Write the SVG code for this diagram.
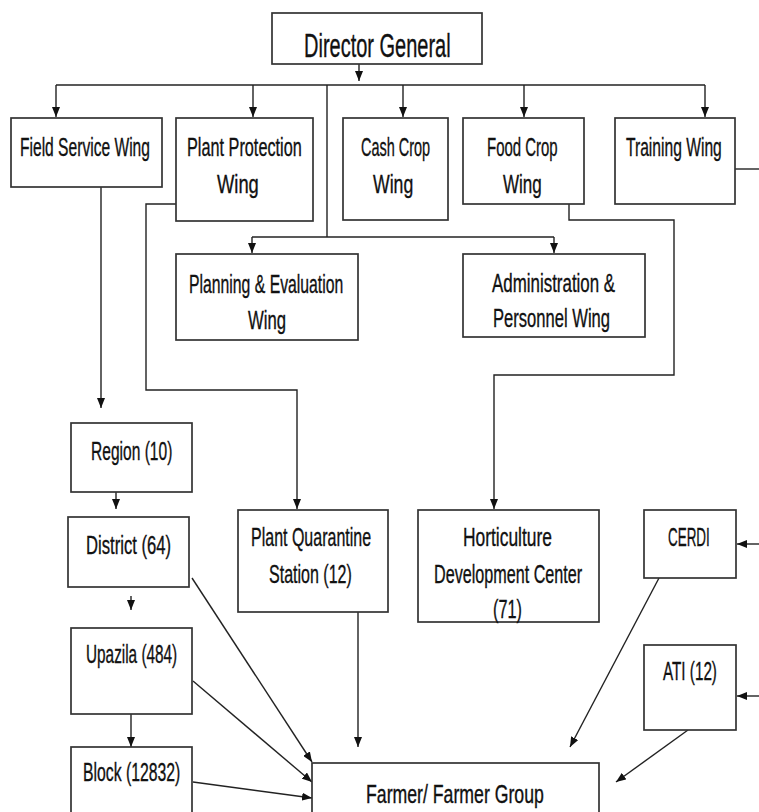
<svg xmlns="http://www.w3.org/2000/svg" width="759" height="812" viewBox="0 0 759 812">
<style>
.box{fill:#fff;stroke:#333;stroke-width:1.7}
.t{font-family:"Liberation Sans Narrow","Liberation Sans",Arial,sans-serif;font-size:25px;fill:#111;stroke:#111;stroke-width:0.35}
.big{font-size:33px}
.c{fill:none;stroke:#222;stroke-width:1.4}
</style>
<defs>
<marker id="ah" markerUnits="userSpaceOnUse" markerWidth="10" markerHeight="8" refX="10" refY="4" orient="auto">
<path d="M0,0 L10,4 L0,8 z" fill="#111"/>
</marker>
</defs>
<g id="connectors">
<line class="c" x1="359" y1="64" x2="359" y2="81" marker-end="url(#ah)"/>
<line class="c" x1="56" y1="85" x2="705" y2="85"/>
<line class="c" x1="56" y1="85" x2="56" y2="117" marker-end="url(#ah)"/>
<line class="c" x1="253" y1="85" x2="253" y2="117" marker-end="url(#ah)"/>
<line class="c" x1="403" y1="85" x2="403" y2="117" marker-end="url(#ah)"/>
<line class="c" x1="524" y1="85" x2="524" y2="117" marker-end="url(#ah)"/>
<line class="c" x1="705" y1="85" x2="705" y2="117" marker-end="url(#ah)"/>
<line class="c" x1="327" y1="85" x2="327" y2="237"/>
<line class="c" x1="252" y1="237" x2="554" y2="237"/>
<line class="c" x1="252" y1="237" x2="252" y2="253" marker-end="url(#ah)"/>
<line class="c" x1="554" y1="237" x2="554" y2="253" marker-end="url(#ah)"/>
<line class="c" x1="101" y1="187" x2="101" y2="408" marker-end="url(#ah)"/>
<polyline class="c" points="176,204 146,204 146,390 297,390 297,509" marker-end="url(#ah)"/>
<polyline class="c" points="569,204 569,220 674,220 674,375 494,375 494,509" marker-end="url(#ah)"/>
<line class="c" x1="116" y1="492" x2="116" y2="509" marker-end="url(#ah)"/>
<line class="c" x1="131" y1="596" x2="131" y2="610" marker-end="url(#ah)"/>
<line class="c" x1="131" y1="714" x2="131" y2="747" marker-end="url(#ah)"/>
<line class="c" x1="735" y1="169" x2="759" y2="169"/>
<line class="c" x1="759" y1="544" x2="737" y2="544" marker-end="url(#ah)"/>
<line class="c" x1="759" y1="696" x2="737" y2="696" marker-end="url(#ah)"/>
<line class="c" x1="192" y1="578" x2="312" y2="762" marker-end="url(#ah)"/>
<line class="c" x1="193" y1="681" x2="312" y2="782" marker-end="url(#ah)"/>
<line class="c" x1="193" y1="782" x2="312" y2="798" marker-end="url(#ah)"/>
<line class="c" x1="358" y1="612" x2="358" y2="747" marker-end="url(#ah)"/>
<line class="c" x1="659" y1="578" x2="570" y2="747" marker-end="url(#ah)"/>
<line class="c" x1="688" y1="730" x2="616" y2="782" marker-end="url(#ah)"/>
</g>
<g id="director-general">
<rect class="box" x="272" y="13" width="210" height="51"/>
<text class="t big" transform="translate(304 57) scale(.76 1)" textLength="193" lengthAdjust="spacingAndGlyphs">Director General</text>
</g>
<g id="field-service-wing">
<rect class="box" x="11" y="118" width="151" height="69"/>
<text class="t" transform="translate(20 156) scale(.76 1)" textLength="171" lengthAdjust="spacingAndGlyphs">Field Service Wing</text>
</g>
<g id="plant-protection-wing">
<rect class="box" x="176" y="118" width="137" height="103"/>
<text class="t" transform="translate(187 156) scale(.76 1)" textLength="151" lengthAdjust="spacingAndGlyphs">Plant Protection</text>
<text class="t" transform="translate(217 193) scale(.76 1)" textLength="55" lengthAdjust="spacingAndGlyphs">Wing</text>
</g>
<g id="cash-crop-wing">
<rect class="box" x="343" y="118" width="105" height="102"/>
<text class="t" transform="translate(361 156) scale(.76 1)" textLength="91" lengthAdjust="spacingAndGlyphs">Cash Crop</text>
<text class="t" transform="translate(373 193) scale(.76 1)" textLength="53" lengthAdjust="spacingAndGlyphs">Wing</text>
</g>
<g id="food-crop-wing">
<rect class="box" x="463" y="118" width="121" height="86"/>
<text class="t" transform="translate(487 156) scale(.76 1)" textLength="93" lengthAdjust="spacingAndGlyphs">Food Crop</text>
<text class="t" transform="translate(503 193) scale(.76 1)" textLength="51" lengthAdjust="spacingAndGlyphs">Wing</text>
</g>
<g id="training-wing">
<rect class="box" x="615" y="118" width="120" height="86"/>
<text class="t" transform="translate(626 156) scale(.76 1)" textLength="126" lengthAdjust="spacingAndGlyphs">Training Wing</text>
</g>
<g id="planning-evaluation-wing">
<rect class="box" x="176" y="254" width="182" height="86"/>
<text class="t" transform="translate(189 293) scale(.76 1)" textLength="203" lengthAdjust="spacingAndGlyphs">Planning &amp; Evaluation</text>
<text class="t" transform="translate(248 329) scale(.76 1)" textLength="50" lengthAdjust="spacingAndGlyphs">Wing</text>
</g>
<g id="administration-personnel-wing">
<rect class="box" x="463" y="254" width="182" height="83"/>
<text class="t" transform="translate(492 292) scale(.76 1)" textLength="162" lengthAdjust="spacingAndGlyphs">Administration &amp;</text>
<text class="t" transform="translate(493 327) scale(.76 1)" textLength="154" lengthAdjust="spacingAndGlyphs">Personnel Wing</text>
</g>
<g id="region">
<rect class="box" x="71" y="423" width="121" height="69"/>
<text class="t" transform="translate(91 460) scale(.76 1)" textLength="107" lengthAdjust="spacingAndGlyphs">Region (10)</text>
</g>
<g id="district">
<rect class="box" x="68" y="517" width="121" height="70"/>
<text class="t" transform="translate(86 554) scale(.76 1)" textLength="112" lengthAdjust="spacingAndGlyphs">District (64)</text>
</g>
<g id="upazila">
<rect class="box" x="71" y="628" width="121" height="86"/>
<text class="t" transform="translate(86 663) scale(.76 1)" textLength="120" lengthAdjust="spacingAndGlyphs">Upazila (484)</text>
</g>
<g id="block">
<rect class="box" x="71" y="747" width="121" height="80"/>
<text class="t" transform="translate(83 781) scale(.76 1)" textLength="128" lengthAdjust="spacingAndGlyphs">Block (12832)</text>
</g>
<g id="plant-quarantine-station">
<rect class="box" x="238" y="510" width="150" height="102"/>
<text class="t" transform="translate(251 546) scale(.76 1)" textLength="158" lengthAdjust="spacingAndGlyphs">Plant Quarantine</text>
<text class="t" transform="translate(269 583) scale(.76 1)" textLength="109" lengthAdjust="spacingAndGlyphs">Station (12)</text>
</g>
<g id="horticulture-development-center">
<rect class="box" x="418" y="510" width="181" height="112"/>
<text class="t" transform="translate(463 546) scale(.76 1)" textLength="117" lengthAdjust="spacingAndGlyphs">Horticulture</text>
<text class="t" transform="translate(434 583) scale(.76 1)" textLength="195" lengthAdjust="spacingAndGlyphs">Development Center</text>
<text class="t" transform="translate(493 618) scale(.76 1)" textLength="38" lengthAdjust="spacingAndGlyphs">(71)</text>
</g>
<g id="cerdi">
<rect class="box" x="644" y="510" width="92" height="68"/>
<text class="t" transform="translate(668 546) scale(.76 1)" textLength="55" lengthAdjust="spacingAndGlyphs">CERDI</text>
</g>
<g id="ati">
<rect class="box" x="644" y="645" width="92" height="85"/>
<text class="t" transform="translate(663 680) scale(.76 1)" textLength="71" lengthAdjust="spacingAndGlyphs">ATI (12)</text>
</g>
<g id="farmer-group">
<rect class="box" x="312" y="763" width="287" height="70"/>
<text class="t" transform="translate(366 803) scale(.76 1)" textLength="234" lengthAdjust="spacingAndGlyphs">Farmer/ Farmer Group</text>
</g>
</svg>
